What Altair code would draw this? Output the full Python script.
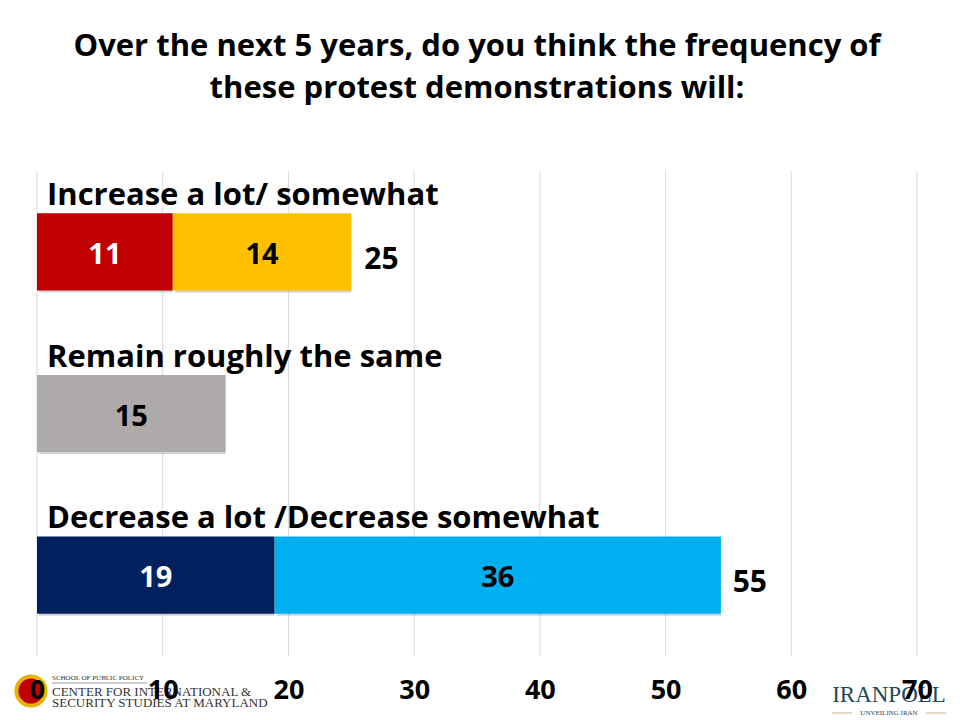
import altair as alt
import pandas as pd

# ---- data ----
categories = ["Increase a lot/ somewhat", "Remain roughly the same", "Decrease a lot /Decrease somewhat"]
seg_group = [categories[0], categories[0], categories[1], categories[2], categories[2]]
seg_part = ["Increase a lot", "Increase somewhat", "Remain the same", "Decrease a lot", "Decrease somewhat"]
seg_value = [10.8, 14.2, 15.0, 18.9, 35.5]
seg_label = ["11", "14", "15", "19", "36"]
seg_text_color = ["white", "black", "black", "white", "black"]
part_colors = ["#C00000", "#FFC000", "#AEAAAA", "#002060", "#00B0F0"]

total_group = [categories[0], categories[2]]
total_value = [25.0, 54.3]
total_label = ["25", "55"]

x_ticks = [0, 10, 20, 30, 40, 50, 60, 70]

title_lines = ["Over the next 5 years, do you think the frequency of",
               "these protest demonstrations will:"]

FONT = "Open Sans"

# ---- tables ----
rows = []
start = {}
for g, p, v, l, tc in zip(seg_group, seg_part, seg_value, seg_label, seg_text_color):
    s = start.get(g, 0.0)
    rows.append(dict(group=g, part=p, x0=s, x1=s + v, mid=s + v / 2, label=l, tcolor=tc))
    start[g] = s + v
seg = pd.DataFrame(rows)
tot = pd.DataFrame(dict(group=total_group, total=total_value, label=total_label))
cats = pd.DataFrame(dict(group=categories, zero=[0] * len(categories)))
ticks = pd.DataFrame(dict(tick=x_ticks))

xscale = alt.Scale(domain=[0, 70], nice=False, zero=True)
yscale = alt.Scale(domain=categories, paddingInner=0.523, paddingOuter=0.2615)

base_y = alt.Y("group:N", scale=yscale, axis=None, sort=categories)

grid = alt.Chart(ticks).mark_rule(color="#D9D9D9", strokeWidth=1).encode(
    x=alt.X("tick:Q", scale=xscale,
            axis=alt.Axis(values=x_ticks, grid=False, domain=False, ticks=False,
                          labelFont=FONT, labelFontSize=27, labelFontWeight="bold",
                          labelColor="black", labelPadding=34, labelBaseline="middle",
                          labelOverlap=False, labelFlush=False, zindex=1, title=None)),
    y=alt.value(0),
    y2=alt.value(485),
)

shadow = alt.Chart(seg).mark_bar(color="#7F7F7F", opacity=0.35, xOffset=2, yOffset=2).encode(
    x=alt.X("x0:Q", scale=xscale),
    x2="x1:Q",
    y=base_y,
)

bars = alt.Chart(seg).mark_bar().encode(
    x=alt.X("x0:Q", scale=xscale),
    x2="x1:Q",
    y=base_y,
    color=alt.Color("part:N", scale=alt.Scale(domain=seg_part, range=part_colors), legend=None),
)

seg_text = alt.Chart(seg).mark_text(font=FONT, fontSize=29, fontWeight="bold", dy=3).encode(
    x=alt.X("mid:Q", scale=xscale),
    y=base_y,
    text="label:N",
    color=alt.Color("tcolor:N", scale=None),
)

tot_text = alt.Chart(tot).mark_text(font=FONT, fontSize=30, fontWeight="bold", align="left",
                                    dx=13, dy=8, color="black").encode(
    x=alt.X("total:Q", scale=xscale),
    y=base_y,
    text="label:N",
)

cat_text = alt.Chart(cats).mark_text(font=FONT, fontSize=31, fontWeight="bold", align="left",
                                     dx=10, dy=-56, color="black").encode(
    x=alt.X("zero:Q", scale=xscale),
    y=base_y,
    text="group:N",
)

# ---- logo decorations (bottom corners) ----
left_logo = pd.DataFrame(dict(
    t=["SCHOOL OF PUBLIC POLICY", "CENTER FOR INTERNATIONAL &", "SECURITY STUDIES AT MARYLAND"],
    py=[507, 521, 532],
    fs=[7, 13, 13],
))
right_logo = pd.DataFrame(dict(t=["IRANPOLL", "UNVEILING IRAN"], py=[524, 542], fs=[23, 7]))

logos_left = alt.Chart(left_logo).mark_text(font="Liberation Serif", align="left",
                                            color="#333333").encode(
    x=alt.value(15),
    y=alt.Y("py:Q", scale=None),
    text="t:N",
    size=alt.Size("fs:Q", scale=None, legend=None),
)
logos_right = alt.Chart(right_logo).mark_text(font="Liberation Serif", align="center",
                                              color="#1B4A5A").encode(
    x=alt.value(852),
    y=alt.Y("py:Q", scale=None),
    text="t:N",
    size=alt.Size("fs:Q", scale=None, legend=None),
)
deco = pd.DataFrame(dict(k=["a"]))
seal = alt.Chart(deco).mark_point(filled=True, shape="circle", size=850, color="#C00000",
                                  stroke="#E8B400", strokeWidth=4, opacity=1).encode(
    x=alt.value(-6), y=alt.value(520))
school_rule = alt.Chart(deco).mark_rule(color="#999999", strokeWidth=1).encode(
    x=alt.value(15), x2=alt.value(110), y=alt.value(512))
tag_rule_l = alt.Chart(deco).mark_rule(color="#C8B98A", strokeWidth=1).encode(
    x=alt.value(795), x2=alt.value(815), y=alt.value(542))
tag_rule_r = alt.Chart(deco).mark_rule(color="#C8B98A", strokeWidth=1).encode(
    x=alt.value(889), x2=alt.value(909), y=alt.value(542))

chart = alt.layer(grid, shadow, bars, seg_text, tot_text, cat_text,
                  logos_left, logos_right, seal, school_rule, tag_rule_l, tag_rule_r).properties(
    width=880,
    height=485,
    autosize=alt.AutoSizeParams(type="none"),
    padding={"left": 29, "top": 163, "right": 35, "bottom": 64},
    title=alt.TitleParams(text=title_lines, font=FONT, fontSize=31, fontWeight="bold",
                          color="black", anchor="middle", baseline="bottom",
                          lineHeight=42, offset=35),
).configure(background="white", view=alt.ViewConfig(stroke=None))

chart.save("out.html", embed_options={"renderer": "svg", "actions": False})
